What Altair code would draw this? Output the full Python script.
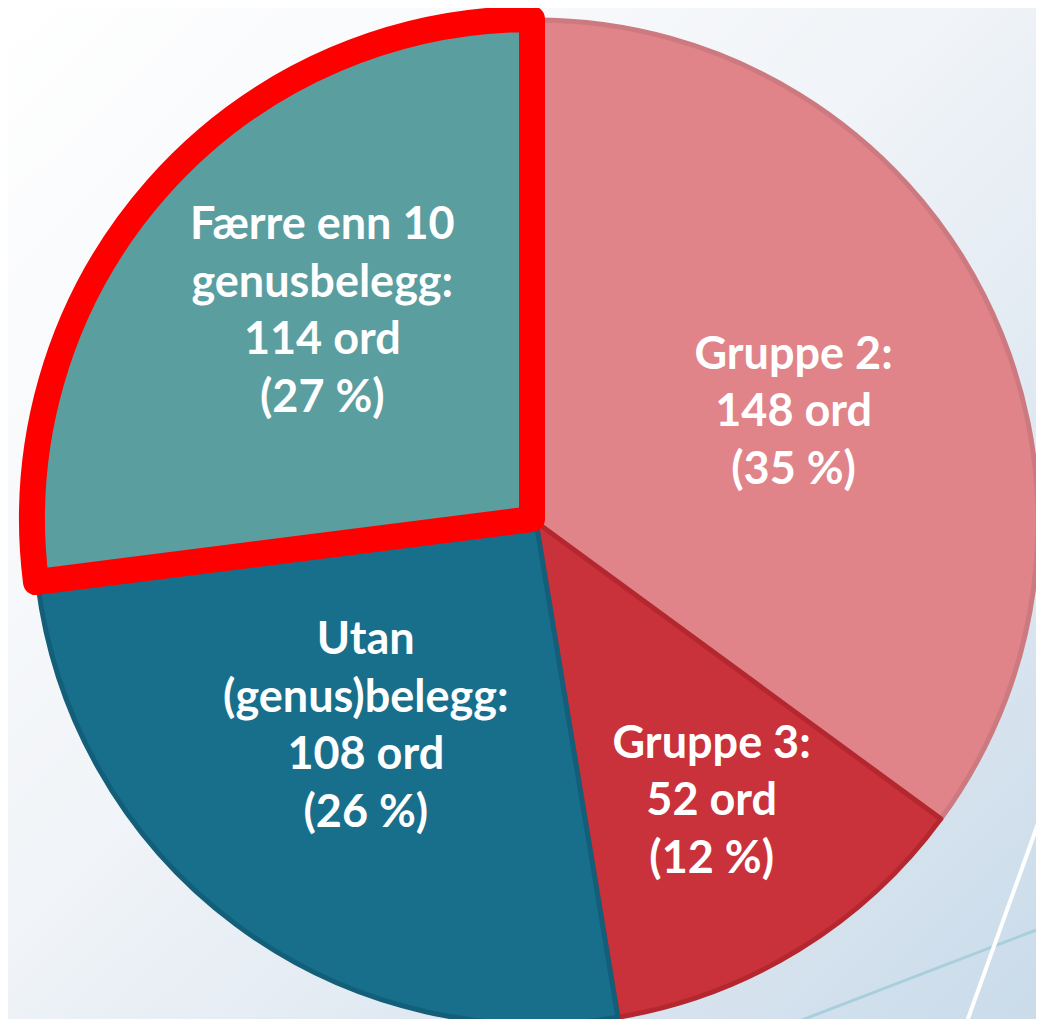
import math
import altair as alt
import pandas as pd

categories = ["Gruppe 2", "Gruppe 3", "Utan (genus)belegg", "Færre enn 10 genusbelegg"]
counts = [148, 52, 108, 114]
percents = [35, 12, 26, 27]
label_texts = [
    "Gruppe 2:\n148 ord\n(35 %)",
    "Gruppe 3:\n52 ord\n(12 %)",
    "Utan\n(genus)belegg:\n108 ord\n(26 %)",
    "Færre enn 10\ngenusbelegg:\n114 ord\n(27 %)",
]
fill_colors = ["#e0848a", "#c9323a", "#186f8c", "#5a9ea0"]
edge_colors = ["#cc7a80", "#b5272f", "#135f79", "#ff0000"]

df = pd.DataFrame({
    "cat": categories,
    "n": counts,
    "pct": percents,
    "label": label_texts,
    "idx": list(range(len(categories))),
})

TOTAL = sum(counts)
W, H = 1028, 1011
CX, CY = 528, 514
HL = "Færre enn 10 genusbelegg"
LH = 57.5

theta_scale = alt.Scale(domain=[0, TOTAL], range=[0, 2 * math.pi])

bg = alt.Chart(pd.DataFrame({"a": [0]})).mark_rect(
    fill=alt.Gradient(
        gradient="linear",
        x1=0, y1=0, x2=1, y2=1,
        stops=[
            alt.GradientStop(offset=0, color="#ffffff"),
            alt.GradientStop(offset=0.45, color="#f1f4f8"),
            alt.GradientStop(offset=1, color="#cadbea"),
        ],
    ),
    strokeWidth=0,
).encode(x=alt.value(0), x2=alt.value(W), y=alt.value(0), y2=alt.value(H))

deco_white = alt.Chart(pd.DataFrame({"a": [0]})).mark_rule(
    color="#ffffff", strokeWidth=4
).encode(x=alt.value(1036), x2=alt.value(957), y=alt.value(799), y2=alt.value(1019))

deco_blue = alt.Chart(pd.DataFrame({"a": [0]})).mark_rule(
    color="#a9cedc", strokeWidth=3
).encode(x=alt.value(1036), x2=alt.value(760), y=alt.value(919), y2=alt.value(1025))

deco_teal = alt.Chart(pd.DataFrame({"a": [0]})).mark_rule(
    color="#2f7f99", strokeWidth=3
).encode(x=alt.value(1036), x2=alt.value(1029), y=alt.value(985), y2=alt.value(1019))

base = alt.Chart(df).transform_window(
    cum="sum(n)", sort=[alt.SortField("idx", order="ascending")]
).transform_calculate(
    start="datum.cum - datum.n",
    mid="datum.cum - datum.n / 2",
)

pie = base.mark_arc(strokeJoin="round").transform_calculate(
    cx=f"datum.cat == '{HL}' ? {CX - 4} : {CX}",
    cy=f"datum.cat == '{HL}' ? {CY - 3} : {CY}",
    rr=f"datum.cat == '{HL}' ? 500 : 502",
).encode(
    theta=alt.Theta("start:Q", scale=theta_scale, stack=None),
    theta2="cum:Q",
    order=alt.Order("idx:Q"),
    x=alt.X("cx:Q", scale=None),
    y=alt.Y("cy:Q", scale=None),
    radius=alt.Radius("rr:Q", scale=None),
    color=alt.Color("cat:N", scale=alt.Scale(domain=categories, range=fill_colors), legend=None),
    stroke=alt.Stroke("cat:N", scale=alt.Scale(domain=categories, range=edge_colors), legend=None),
    strokeWidth=alt.condition(alt.datum.cat == HL, alt.value(26), alt.value(5)),
)

label_base = base.transform_calculate(
    lr=f"datum.cat == '{HL}' ? 300 : datum.cat == 'Gruppe 2' ? 280 : datum.cat == 'Gruppe 3' ? 330 : 266",
    shift=f"datum.cat == '{HL}' ? 3.2 : datum.cat == 'Gruppe 2' ? 3.8 : datum.cat == 'Gruppe 3' ? -0.6 : 3.1",
    nl="split(datum.label, '\\n').length",
).transform_calculate(
    lt=f"datum.mid + datum.shift * {TOTAL} / 360",
)


def label_layer(nlines):
    return label_base.transform_filter(
        alt.datum.nl == nlines
    ).mark_text(
        font="Lato",
        fontWeight="bold",
        fontSize=45,
        lineHeight=LH,
        lineBreak="\n",
        color="white",
        align="center",
        baseline="middle",
        dy=-(nlines - 1) * LH / 2,
    ).encode(
        theta=alt.Theta("lt:Q", scale=theta_scale, stack=None),
        x=alt.value(CX),
        y=alt.value(CY),
        radius=alt.Radius("lr:Q", scale=None),
        text="label:N",
    )


chart = alt.layer(
    bg, deco_blue, deco_white, deco_teal, pie, label_layer(3), label_layer(4)
).properties(
    width=W, height=H,
    autosize=alt.AutoSizeParams(type="none"),
    padding=0,
).configure_view(stroke=None)

chart.save("out.html", embed_options={"renderer": "svg", "actions": False})
